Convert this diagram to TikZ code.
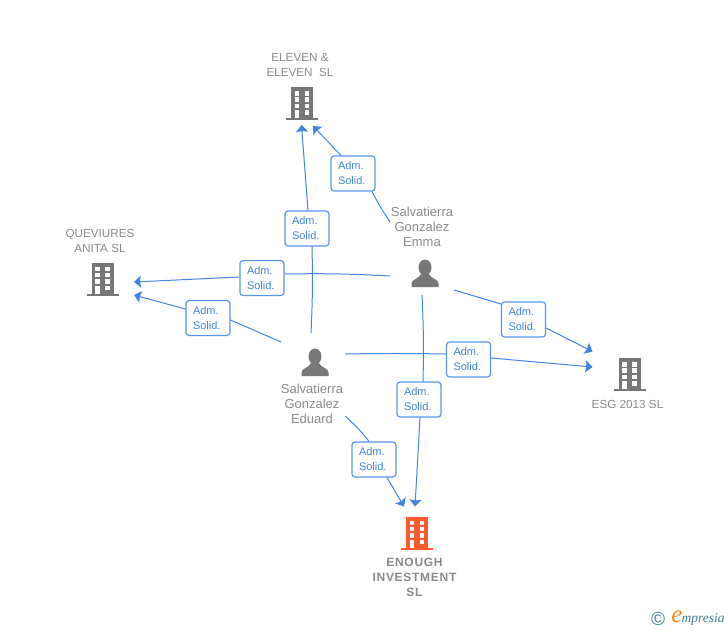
\documentclass[tikz,border=0pt]{standalone}
\usepackage{fontspec}
\setmainfont{Liberation Sans}
\newfontfamily\boldspaced[LetterSpace=6]{Liberation Sans Bold}
\newfontfamily\logofont{Liberation Serif Italic}
\usetikzlibrary{arrows.meta}
\definecolor{linkblue}{HTML}{3F86E3}
\definecolor{boxline}{HTML}{5A96E8}
\definecolor{boxblue}{HTML}{3F84DE}
\definecolor{icongray}{HTML}{777777}
\definecolor{labelgray}{HTML}{8A8A8A}
\definecolor{iconred}{HTML}{FF5A2B}
\definecolor{logoteal}{HTML}{3F7F96}
\definecolor{logoorange}{HTML}{F08A1D}
\tikzset{
  link/.style = {draw=linkblue, line width=1pt},
  linktip/.style = {link, -{Stealth[length=7pt,width=12pt,inset=1pt]}},
  rel/.style = {draw=boxline, line width=1.2pt, rounded corners=3pt, fill=white,
    text=boxblue, minimum width=44pt, minimum height=35pt, inner sep=0pt, text width=30pt,
    align=left, font=\fontsize{11}{15}\selectfont},
  who/.style = {text=labelgray, align=center, inner sep=0pt, font=\fontsize{13}{15}\selectfont},
  firm/.style = {text=labelgray, align=center, inner sep=0pt, font=\fontsize{11.7}{15}\selectfont},
  mainfirm/.style = {text=labelgray, align=center, inner sep=0pt, font=\fontsize{12}{15}\boldspaced},
  pics/building/.style = {code={
    \fill[#1] (-11,-16) rectangle (11,15);
    \fill[#1] (-16,15) rectangle (16,17);
    \foreach \y in {-12,-6,0.5} {
      \fill[white] (-7.5,\y) rectangle (-3,\y+4.5);
      \fill[white] (2.5,\y) rectangle (7,\y+4.5);
    }
    \fill[white] (2.5,7) rectangle (7,11.5);
    \fill[white] (-7.5,7) rectangle (-3,15);
  }},
  pics/person/.style = {code={
    \fill[icongray] (0,-6.5) ellipse (6.5 and 8);
    \fill[icongray] (-13.5,13) -- (-13.5,9.5) .. controls (-13.5,5) and (-6,5) .. (-4,0)
      -- (4,0) .. controls (6,5) and (13.5,5) .. (13.5,9.5) -- (13.5,13) -- cycle;
  }}
}
\begin{document}
\begin{tikzpicture}[x=1pt,y=-1pt]
  \useasboundingbox (0,0) rectangle (728,630);
  % icons
  \pic at (302,103) {building=icongray};
  \pic at (102.5,278.5) {building=icongray};
  \pic at (629.5,374) {building=icongray};
  \pic at (417,532.5) {building=iconred};
  \pic at (425,274) {person};
  \pic at (315,363) {person};
  % names
  \node[firm](eleven) at (300,65){ELEVEN \&\\ELEVEN\ \ SL};
  \node[firm](queviures) at (100,241){QUEVIURES\\ANITA SL};
  \node[firm](esg) at (627.5,404){ESG 2013 SL};
  \node[mainfirm](enough) at (414.5,577){ENOUGH\\INVESTMENT\\SL};
  \node[who](emma) at (422,227){Salvatierra\\Gonzalez\\Emma};
  \node[who](eduard) at (312,404){Salvatierra\\Gonzalez\\Eduard};
  % boxes
  \node[rel](relA) at (353,173.5){Adm.\\Solid.};
  \node[rel](relB) at (307,228.5){Adm.\\Solid.};
  \node[rel](relC) at (262,278){Adm.\\Solid.};
  \node[rel](relD) at (208,318){Adm.\\Solid.};
  \node[rel](relE) at (523.5,319.5){Adm.\\Solid.};
  \node[rel](relF) at (468.5,359.5){Adm.\\Solid.};
  \node[rel](relG) at (419,399.5){Adm.\\Solid.};
  \node[rel](relH) at (374,459.5){Adm.\\Solid.};
  % free ends
  \coordinate (emmaA) at (390,222);
  \coordinate (emmaC) at (390,276);
  \coordinate (emmaE) at (454,290);
  \coordinate (emmaG) at (422,295);
  \coordinate (eduardB) at (311,333);
  \coordinate (eduardD) at (281,342);
  \coordinate (eduardF) at (345,354);
  \coordinate (eduardH) at (345,416);
  \coordinate (elevenA) at (313,126);
  \coordinate (elevenB) at (301.5,125);
  \coordinate (queviuresC) at (134,282);
  \coordinate (queviuresD) at (134,295);
  \coordinate (esgE) at (592.5,351.5);
  \coordinate (esgF) at (592.5,367);
  \coordinate (enoughG) at (415,506.5);
  \coordinate (enoughH) at (404,506.5);
  % links
  \draw[link] (emmaA) to[bend left=3] ([xshift=19pt]relA.south);
  \draw[linktip] ([xshift=-12pt]relA.north) -- (elevenA);
  \draw[link] (eduardB) to[bend right=2] ([xshift=5pt]relB.south);
  \draw[linktip] ([xshift=1pt]relB.north) -- (elevenB);
  \draw[link] (emmaC) to[bend right=2] ([yshift=4pt]relC.east);
  \draw[linktip] ([yshift=1pt]relC.west) -- (queviuresC);
  \draw[link] (eduardD) -- ([yshift=-2pt]relD.east);
  \draw[linktip] ([yshift=9pt]relD.west) -- (queviuresD);
  \draw[link] (emmaE) -- ([yshift=15.5pt]relE.west);
  \draw[linktip] ([yshift=-8.5pt]relE.east) -- (esgE);
  \draw[link] (eduardF) to[bend left=1] ([yshift=5.5pt]relF.west);
  \draw[linktip] ([yshift=1.5pt]relF.east) -- (esgF);
  \draw[link] (emmaG) to[bend left=2] ([xshift=4pt]relG.north);
  \draw[linktip] ([xshift=1pt]relG.south) -- (enoughG);
  \draw[link] (eduardH) to[bend left=5] ([xshift=-5pt]relH.north);
  \draw[linktip] ([xshift=13pt]relH.south) -- (enoughH);
  % logo
  \node[inner sep=0pt, text=logoteal, font=\fontsize{19}{19}\selectfont](copyr) at (658,619){\textcopyright};
  \node[inner sep=0pt, text=logoorange, font=\fontsize{25}{25}\logofont](logoE) at (677,616.5){e};
  \node[inner sep=0pt, text=logoteal, font=\fontsize{13.5}{13.5}\logofont, anchor=west](logo) at (681.5,619){mpresia};
\end{tikzpicture}
\end{document}
